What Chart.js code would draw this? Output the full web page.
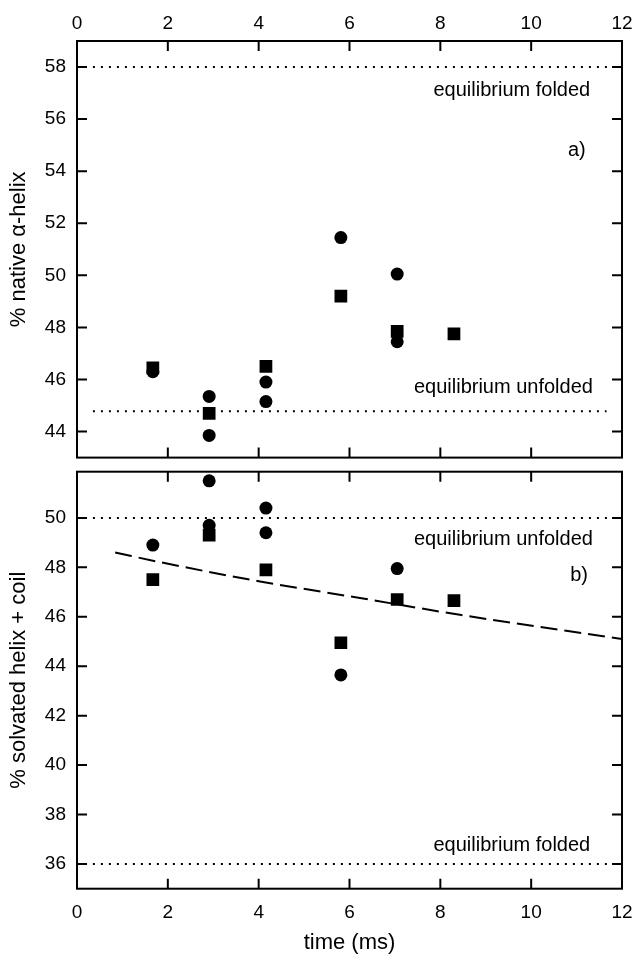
<!DOCTYPE html>
<html><head><meta charset="utf-8">
<script src="https://cdn.jsdelivr.net/npm/chart.js@4/dist/chart.umd.min.js"></script>
<style>
html,body{margin:0;padding:0;background:#fff;}
#wrap{position:relative;width:635px;height:956px;overflow:hidden;}
#c1{position:absolute;left:0;top:0;}
#c2{position:absolute;left:0;top:460px;}
</style></head><body>
<div id="wrap">
<canvas id="c1" width="635" height="469"></canvas>
<canvas id="c2" width="635" height="496"></canvas>
</div>
<script>
// ---- data ----
const timeTicks = [0, 2, 4, 6, 8, 10, 12];
const nativeTicks = [44, 46, 48, 50, 52, 54, 56, 58];
const solvTicks = [36, 38, 40, 42, 44, 46, 48, 50];

const nativeCircT = [1.67, 2.91, 2.91, 4.16, 4.16, 5.81, 7.05, 7.05];
const nativeCircV = [46.3, 45.35, 43.85, 45.9, 45.15, 51.45, 50.05, 47.45];
const nativeSqT = [1.67, 2.91, 4.16, 5.81, 7.05, 8.3];
const nativeSqV = [46.45, 44.7, 46.5, 49.2, 47.85, 47.75];

const solvCircT = [1.67, 2.91, 2.91, 4.16, 4.16, 5.81, 7.05];
const solvCircV = [48.9, 51.5, 49.7, 50.4, 49.4, 43.65, 47.95];
const solvSqT = [1.67, 2.91, 4.16, 5.81, 7.05, 8.3];
const solvSqV = [47.5, 49.3, 47.9, 44.95, 46.7, 46.65];

const fitT = [0.84, 1.83, 4.03, 6.23, 8.43, 12];
const fitV = [48.6, 48.21, 47.43, 46.76, 46.08, 45.1];

const nativeFolded = 58, nativeUnfolded = 44.78;
const solvUnfolded = 50, solvFolded = 36;
const eqStartT = 0.35, nativeUnfoldedEndT = 11.66, eqEndT = 12;

// ---- helpers ----
const FONT = "'Liberation Sans', Arial, Helvetica, sans-serif";
const pts = (xs, ys) => xs.map((x, i) => ({x, y: ys[i]}));
const setTicks = arr => s => { s.ticks = arr.map(v => ({value: v})); };

const frameTicks = {
  id: 'frameTicks',
  afterDraw(chart) {
    const {ctx, chartArea: a} = chart;
    const xs = chart.scales.x, ys = chart.scales.y;
    const L = 10;
    ctx.save();
    ctx.strokeStyle = '#000';
    ctx.lineWidth = 2;
    ctx.strokeRect(a.left, a.top, a.right - a.left, a.bottom - a.top);
    ctx.beginPath();
    xs.ticks.forEach(t => {
      const p = xs.getPixelForValue(t.value);
      if (p <= a.left + 1 || p >= a.right - 1) return;
      ctx.moveTo(p, a.top); ctx.lineTo(p, a.top + L);
      ctx.moveTo(p, a.bottom); ctx.lineTo(p, a.bottom - L);
    });
    ys.ticks.forEach(t => {
      const p = ys.getPixelForValue(t.value);
      if (p <= a.top + 1 || p >= a.bottom - 1) return;
      ctx.moveTo(a.left, p); ctx.lineTo(a.left + L, p);
      ctx.moveTo(a.right, p); ctx.lineTo(a.right - L, p);
    });
    ctx.stroke();
    const notes = chart.options.plugins.frameTicks.notes || [];
    ctx.fillStyle = '#000';
    ctx.textBaseline = 'middle';
    notes.forEach(n => {
      ctx.font = n.size + 'px ' + FONT;
      ctx.textAlign = n.align;
      ctx.fillText(n.text, xs.getPixelForValue(n.x), ys.getPixelForValue(n.y));
    });
    ctx.restore();
  }
};

function refLine(x0, x1, y) {
  return {type: 'scatter', data: [{x: x0, y}, {x: x1, y}], showLine: true, pointRadius: 0,
    borderColor: '#000', borderWidth: 2, borderDash: [2, 6], borderCapStyle: 'butt'};
}
function marks(data, style, r) {
  return {type: 'scatter', data, pointStyle: style, pointRadius: r, pointHoverRadius: r,
    backgroundColor: '#000', borderColor: '#000', borderWidth: 0};
}
const tickFont = {family: FONT, size: 19};
const titleFont = {family: FONT, size: 22};
const hiddenGrid = len => ({display: true, drawOnChartArea: false, drawTicks: true, tickLength: len,
  color: 'rgba(0,0,0,0)', tickColor: 'rgba(0,0,0,0)'});

function baseOpts(xPos, xFitH, yMin, yMax, yTickArr, yTitle, padding, xTickLen, notes, xTitle) {
  return {
    responsive: false, animation: false, devicePixelRatio: 1,
    layout: {padding},
    plugins: {legend: {display: false}, tooltip: {enabled: false}, frameTicks: {notes}},
    scales: {
      x: {type: 'linear', position: xPos, min: 0, max: 12,
        afterBuildTicks: setTicks(timeTicks),
        afterFit: s => { s.height = xFitH; },
        ticks: {font: tickFont, color: '#000', padding: 0, maxRotation: 0, autoSkip: false},
        grid: hiddenGrid(xTickLen), border: {display: false},
        title: xTitle ? {display: true, text: xTitle, font: titleFont, color: '#000', padding: {top: 0, bottom: 0}} : {display: false}
      },
      y: {type: 'linear', min: yMin, max: yMax,
        afterBuildTicks: setTicks(yTickArr),
        afterFit: s => { s.width = 77; },
        ticks: {font: tickFont, color: '#000', padding: 0},
        grid: hiddenGrid(11), border: {display: false},
        title: {display: true, text: yTitle, font: titleFont, color: '#000', padding: {top: 6, bottom: 0}}
      }
    }
  };
}

new Chart(document.getElementById('c1'), {
  type: 'scatter',
  data: {datasets: [
    refLine(eqStartT, eqEndT, nativeFolded),
    refLine(eqStartT, nativeUnfoldedEndT, nativeUnfolded),
    marks(pts(nativeCircT, nativeCircV), 'circle', 6.5),
    marks(pts(nativeSqT, nativeSqV), 'rect', 9)
  ]},
  options: baseOpts('top', 41, 43, 59, nativeTicks, '% native \u03b1-helix',
    {left: 0, right: 13, top: 0, bottom: 11.3}, 6,
    [{text: 'equilibrium folded', x: 11.3, y: 57.1, align: 'right', size: 20},
     {text: 'a)', x: 11.2, y: 54.8, align: 'right', size: 20},
     {text: 'equilibrium unfolded', x: 11.36, y: 45.68, align: 'right', size: 20}]),
  plugins: [frameTicks]
});

new Chart(document.getElementById('c2'), {
  type: 'scatter',
  data: {datasets: [
    refLine(eqStartT, eqEndT, solvUnfolded),
    refLine(eqStartT, eqEndT, solvFolded),
    {type: 'scatter', data: pts(fitT, fitV), showLine: true, pointRadius: 0,
     borderColor: '#000', borderWidth: 2, borderDash: [17, 7], cubicInterpolationMode: 'monotone'},
    marks(pts(solvCircT, solvCircV), 'circle', 6.5),
    marks(pts(solvSqT, solvSqV), 'rect', 9)
  ]},
  options: baseOpts('bottom', 67.3, 35, 51.87, solvTicks, '% solvated helix + coil',
    {left: 0, right: 13, top: 11.7, bottom: 0}, 13,
    [{text: 'equilibrium unfolded', x: 11.36, y: 49.11, align: 'right', size: 20},
     {text: 'b)', x: 11.25, y: 47.66, align: 'right', size: 20},
     {text: 'equilibrium folded', x: 11.3, y: 36.74, align: 'right', size: 20}], 'time (ms)'),
  plugins: [frameTicks]
});
</script>
</body></html>
